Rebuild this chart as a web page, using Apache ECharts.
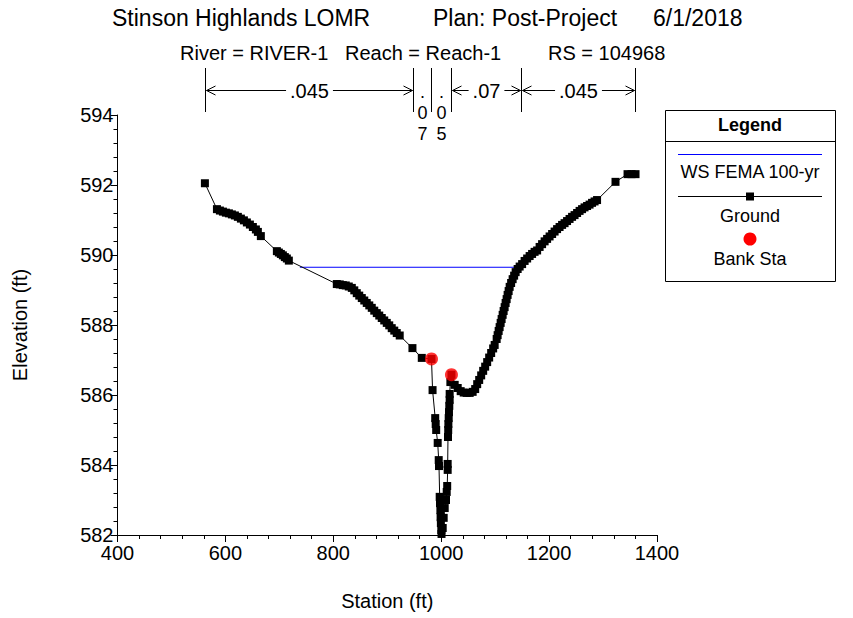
<!DOCTYPE html>
<html>
<head>
<meta charset="utf-8">
<script src="https://cdn.jsdelivr.net/npm/echarts@6.0.0/dist/echarts.min.js"></script>
<style>
html,body{margin:0;padding:0;background:#fff;}
#chart{width:853px;height:618px;}
</style>
</head>
<body>
<div id="chart"></div>
<script>
// ---- Data ----
const groundStation = [562,584.3,589.8,595.4,600.9,606.5,612,617.6,623.1,628.7,634.3,639.8,645.4,650.9,656.5,660.2,665.7,
  695.4,699.1,702.8,706.5,710.2,713.9,717.6,
  806.5,812,817.6,823.1,828.7,834.3,838.9,843.5,848.1,852.8,857.4,862,866.7,871.3,875.9,880.6,885.2,889.8,894.4,899.1,903.7,908.3,913,917.6,923.1,
  946.7,964,982,
  984,988.9,989.8,990.7,993.5,995.4,995.9,997.2,997.8,998.5,998.9,999.4,1000.2,1000.6,
  1002.8,1004.6,1006.5,1008.9,1010.2,1011.1,1012,1012,1012.6,1013,1013.3,1013.9,1014.4,1015,1015.7,1015.7,1017,1019,
  1025,1030.6,1036.1,1041.7,1047.2,1052.8,1058.3,1063,
  1066.7,1070.4,1074.1,1077.8,1081.5,1085.2,1088.9,1092.6,1096.3,1099.1,
  1102.8,1104.6,1106.5,1108.3,1110.2,1112,1113.9,1115.7,1117.6,1119.4,1121.3,1123.1,1125,1126.9,
  1129.6,1132.4,1135.2,1138,1141.7,1145.4,1150,
  1154.6,1159.3,1163.9,1168.5,1173.1,1177.8,1182.4,1187,1191.7,1196.3,1200.9,1205.6,1210.2,1214.8,1219.4,1224.1,1228.7,1233.3,1237.9,1242.6,1247.2,1251.9,1256.5,1261.1,1265.7,1270.4,1275,1279.6,1284.3,1288.9,
  1323.1,1345.4,1352.8,1360.2];
const groundElev = [592.05,591.31,591.27,591.24,591.21,591.19,591.16,591.13,591.09,591.04,590.99,590.93,590.87,590.8,590.73,590.66,590.54,
  590.11,590.07,590.03,589.99,589.94,589.9,589.84,
  589.17,589.16,589.14,589.13,589.1,589.06,588.99,588.91,588.84,588.77,588.7,588.63,588.56,588.49,588.41,588.34,588.27,588.2,588.13,588.06,587.99,587.91,587.84,587.77,587.7,
  587.34,587.06,587.03,
  586.14,585.34,585.17,585.0,584.63,584.14,583.97,583.09,582.91,582.71,582.51,582.34,582.14,582.03,
  582.2,582.49,582.77,583.0,583.23,583.4,583.86,584.03,584.8,585.0,585.17,585.34,585.51,585.69,585.86,586.03,586.37,586.58,
  586.29,586.2,586.11,586.07,586.06,586.06,586.09,586.17,
  586.31,586.43,586.56,586.69,586.81,586.94,587.07,587.2,587.33,587.43,
  587.6,587.71,587.83,587.94,588.06,588.17,588.29,588.4,588.51,588.63,588.74,588.86,588.97,589.09,
  589.2,589.31,589.41,589.51,589.6,589.67,589.74,
  589.83,589.9,589.97,590.03,590.09,590.13,590.23,590.31,590.39,590.46,590.53,590.6,590.67,590.74,590.8,590.86,590.91,590.97,591.03,591.09,591.14,591.2,591.26,591.31,591.36,591.4,591.44,591.49,591.53,591.57,
  592.09,592.31,592.31,592.31];
const bankStation = [982, 1019];
const bankElev = [587.03, 586.58];
const wsStation = [738, 1151];
const wsElev = [589.65, 589.65];
const nBreaks = [562, 947, 982, 1019, 1147, 1360];
const nValues = ['.045', '.07', '.05', '.07', '.045'];
const xRange = [400, 1400];
const yRange = [582, 594];
const titleParts = ['Stinson Highlands LOMR', 'Plan: Post-Project', '6/1/2018'];
const subtitleParts = ['River = RIVER-1', 'Reach = Reach-1', 'RS = 104968'];
const legendNames = ['WS FEMA 100-yr', 'Ground', 'Bank Sta'];

const FONT = 'Liberation Sans, Arial, sans-serif';
const chart = echarts.init(document.getElementById('chart'), null, {renderer: 'svg'});

const pairs = (xs, ys) => xs.map((x, i) => [x, ys[i]]);

chart.setOption({
  animation: false,
  backgroundColor: '#fff',
  grid: {left: 117.5, right: 196, top: 115, bottom: 83, containLabel: false},
  xAxis: {
    type: 'value', min: xRange[0], max: xRange[1], interval: 200,
    name: 'Station (ft)', nameLocation: 'middle', nameGap: 56,
    nameTextStyle: {fontFamily: FONT, fontSize: 20, color: '#000'},
    axisLine: {show: true, onZero: false, lineStyle: {color: '#000', width: 1}},
    axisTick: {show: true, inside: false, length: 7, lineStyle: {color: '#000'}},
    minorTick: {show: true, splitNumber: 5, length: 4, lineStyle: {color: '#000'}},
    axisLabel: {fontFamily: FONT, fontSize: 20, color: '#000', margin: 8, formatter: v => String(v)},
    splitLine: {show: false}
  },
  yAxis: {
    type: 'value', min: yRange[0], max: yRange[1], interval: 2,
    name: 'Elevation (ft)', nameLocation: 'middle', nameGap: 88, nameRotate: 90,
    nameTextStyle: {fontFamily: FONT, fontSize: 20, color: '#000'},
    axisLine: {show: true, onZero: false, lineStyle: {color: '#000', width: 1}},
    axisTick: {show: true, inside: false, length: 7, lineStyle: {color: '#000'}},
    minorTick: {show: true, splitNumber: 5, length: 4, lineStyle: {color: '#000'}},
    axisLabel: {fontFamily: FONT, fontSize: 20, color: '#000', margin: 4, formatter: v => String(v)},
    splitLine: {show: false}
  },
  series: [
    {
      name: legendNames[0], type: 'line', data: pairs(wsStation, wsElev),
      symbol: 'none', lineStyle: {color: '#0000ff', width: 1}, z: 2
    },
    {
      name: legendNames[1], type: 'line', data: pairs(groundStation, groundElev),
      symbol: 'rect', symbolSize: 8, showAllSymbol: true,
      itemStyle: {color: '#000'}, lineStyle: {color: '#000', width: 1}, z: 3
    },
    {
      name: legendNames[2], type: 'scatter', data: pairs(bankStation, bankElev),
      symbol: 'circle', symbolSize: 13, itemStyle: {color: '#ff0000'}, z: 4
    }
  ]
});

// ---- Annotations (titles, Manning's n, legend) ----
const g = [];
const txt = (x, y, text, opts) => g.push(Object.assign({
  type: 'text', x: x, y: y,
  style: Object.assign({text: text, fill: '#000', font: '20px ' + FONT, align: 'center', verticalAlign: 'middle'}, opts || {})
}));
const line = (x1, y1, x2, y2, color) => g.push({
  type: 'line', shape: {x1: x1, y1: y1, x2: x2, y2: y2}, style: {stroke: color || '#000', lineWidth: 1}
});
const poly = (pts) => g.push({type: 'polyline', shape: {points: pts}, style: {stroke: '#000', lineWidth: 1, fill: null}});

// title
txt(112, 18, titleParts[0], {font: '23px ' + FONT, align: 'left'});
txt(433, 18, titleParts[1], {font: '23px ' + FONT, align: 'left'});
txt(653, 18, titleParts[2], {font: '23px ' + FONT, align: 'left'});
txt(180, 53, subtitleParts[0], {align: 'left'});
txt(345, 53, subtitleParts[1], {align: 'left'});
txt(548, 53, subtitleParts[2], {align: 'left'});

// Manning's n
const ay = 90.5, vTop = 68, vBot = 112;
const px = nBreaks.map(s => Math.round(chart.convertToPixel({xAxisIndex: 0}, s)) + 0.5);
px.forEach(x => line(x, vTop, x, vBot));
const charW = {'.': 5.6, '0': 11.1, '4': 11.1, '5': 11.1, '7': 11.1};
nValues.forEach((v, i) => {
  const x0 = px[i], x1 = px[i + 1];
  const mid = (x0 + x1) / 2;
  const tw = v.split('').reduce((a, c) => a + (charW[c] || 11.1), 0);
  if (x1 - x0 > tw + 30) {
    txt(mid, ay, v);
    const l = mid - tw / 2 - 4, r = mid + tw / 2 + 4;
    line(x0 + 1, ay, l, ay);
    line(r, ay, x1 - 1, ay);
    poly([[x0 + 10, ay - 4.5], [x0 + 1, ay], [x0 + 10, ay + 4.5]]);
    poly([[x1 - 10, ay - 4.5], [x1 - 1, ay], [x1 - 10, ay + 4.5]]);
  } else {
    // narrow zone: stack the characters vertically
    const rowsY = [92, 113, 134];
    v.split('').forEach((c, k) => txt(mid, rowsY[k], c, {font: '18px ' + FONT, lineHeight: 18}));
  }
});

// legend box
const lx0 = 665, lx1 = 835, lcx = (lx0 + lx1) / 2;
g.push({type: 'rect', shape: {x: lx0 + 0.5, y: 110.5, width: lx1 - lx0, height: 171}, style: {stroke: '#000', lineWidth: 1, fill: '#fff'}});
line(lx0, 141.5, lx1, 141.5);
txt(lcx, 125, 'Legend', {font: 'bold 18px ' + FONT});
line(678, 154.5, 822, 154.5, '#0000ff');
txt(lcx, 172, legendNames[0], {font: '18px ' + FONT});
line(678, 196.5, 822, 196.5);
g.push({type: 'rect', shape: {x: lcx - 4, y: 192.5, width: 8, height: 8}, style: {fill: '#000'}});
txt(lcx, 216, legendNames[1], {font: '18px ' + FONT});
g.push({type: 'circle', shape: {cx: lcx, cy: 239, r: 6.5}, style: {fill: '#ff0000'}});
txt(lcx, 259, legendNames[2], {font: '18px ' + FONT});

chart.setOption({graphic: {elements: g}});
</script>
</body>
</html>
